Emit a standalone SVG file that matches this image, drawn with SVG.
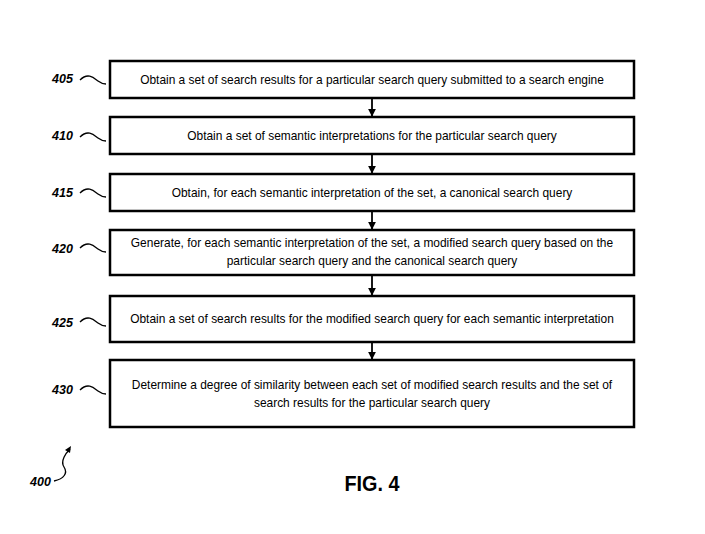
<svg xmlns="http://www.w3.org/2000/svg" width="705" height="534" viewBox="0 0 705 534">
<defs>
<style>
.b{fill:#fff;stroke:#000;stroke-width:2.5}
.t{font-family:"Liberation Sans",Arial,sans-serif;font-size:12.5px;text-anchor:middle;fill:#000;transform-box:fill-box}
.l{font-family:"Liberation Sans",Arial,sans-serif;font-size:12.5px;font-weight:bold;font-style:italic;fill:#000}
.s{fill:none;stroke:#000;stroke-width:1.3}
.c{stroke:#000;stroke-width:1.8;fill:none}
</style>
<marker id="a" viewBox="0 0 10 10" refX="9" refY="5" markerWidth="4.5" markerHeight="4.5" orient="auto"><path d="M0,0L10,5L0,10z" fill="#000"/></marker>
</defs>
<rect width="705" height="534" fill="#fff"/>
<g id="connectors">
<line class="c" x1="372" y1="98" x2="372" y2="116" marker-end="url(#a)"/>
<line class="c" x1="372" y1="154" x2="372" y2="173" marker-end="url(#a)"/>
<line class="c" x1="372" y1="211" x2="372" y2="229" marker-end="url(#a)"/>
<line class="c" x1="372" y1="275" x2="372" y2="295" marker-end="url(#a)"/>
<line class="c" x1="372" y1="342" x2="372" y2="359" marker-end="url(#a)"/>
</g>
<g id="nodes" transform="translate(372,0) scale(0.955,1) translate(-372,0)">
<g id="n405"><text class="t" x="372" y="84">Obtain a set of search results for a particular search query submitted to a search engine</text></g>
<g id="n410"><text class="t" x="372" y="140">Obtain a set of semantic interpretations for the particular search query</text></g>
<g id="n415"><text class="t" x="372" y="197">Obtain, for each semantic interpretation of the set, a canonical search query</text></g>
<g id="n420"><text class="t" x="372" y="247">Generate, for each semantic interpretation of the set, a modified search query based on the</text><text class="t" x="372" y="265">particular search query and the canonical search query</text></g>
<g id="n425"><text class="t" x="372" y="323">Obtain a set of search results for the modified search query for each semantic interpretation</text></g>
<g id="n430"><text class="t" x="372" y="389">Determine a degree of similarity between each set of modified search results and the set of</text><text class="t" x="372" y="407">search results for the particular search query</text></g>
</g>
<g id="boxes">
<rect class="b" x="110" y="61" width="524" height="37" fill-opacity="0"/>
<rect class="b" x="110" y="117" width="524" height="37" fill-opacity="0"/>
<rect class="b" x="110" y="174" width="524" height="37" fill-opacity="0"/>
<rect class="b" x="110" y="230" width="524" height="45" fill-opacity="0"/>
<rect class="b" x="110" y="296" width="524" height="46" fill-opacity="0"/>
<rect class="b" x="110" y="360" width="524" height="67" fill-opacity="0"/>
</g>
<g id="labels">
<text class="l" x="52" y="83">405</text><path class="s" d="M80,80c8,-8 14,-2 18,1s8,3 8,3"/>
<text class="l" x="52" y="140">410</text><path class="s" d="M80,137c8,-8 14,-2 18,1s8,3 8,3"/>
<text class="l" x="52" y="197">415</text><path class="s" d="M80,193c8,-8 14,-2 18,1s8,3 8,3"/>
<text class="l" x="52" y="253">420</text><path class="s" d="M80,248c8,-8 14,-2 18,1s8,3 8,3"/>
<text class="l" x="52" y="327">425</text><path class="s" d="M80,322c8,-8 14,-2 18,1s8,3 8,3"/>
<text class="l" x="52" y="394">430</text><path class="s" d="M80,390c8,-8 14,-2 18,1s8,3 8,3"/>
</g>
<g id="fig"><text class="l" x="30" y="486">400</text><path class="s" d="M54,481c10,-2 14,-8 10,-14s2,-14 6,-18"/><path d="M71,446l-1,7l-5,-3z" fill="#000"/>
<text x="372" y="491" transform="translate(372,0) scale(0.9,1) translate(-372,0)" style="font-family:'Liberation Sans',Arial,sans-serif;font-size:22px;font-weight:bold;text-anchor:middle">FIG. 4</text></g>
</svg>
